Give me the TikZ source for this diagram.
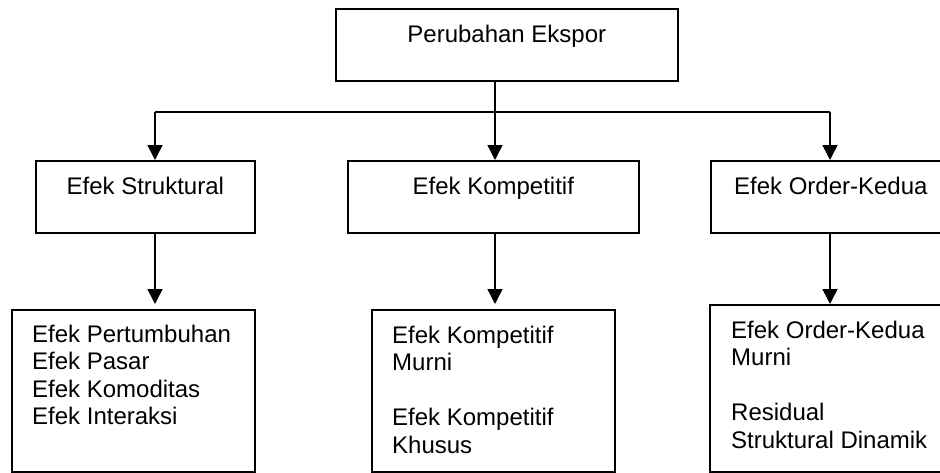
\documentclass[tikz,border=0pt]{standalone}
\usepackage{fontspec}
\setmainfont{Liberation Sans}
\usetikzlibrary{positioning,arrows.meta}

\begin{document}
\begin{tikzpicture}[
x = 1pt,
y = -1pt,
box/.style={
  draw,
  rectangle,
  line width=1.6pt,
  inner sep=0pt
  },
txt/.style={
  inner sep=0pt,
  font=\fontsize{24}{27.5}\selectfont
  },
conn/.style={
  line width=1.6pt
  },
>={Triangle[length=15pt,width=15pt]}
]

\useasboundingbox (0,0) rectangle (940,472);

% top box
\node[box, minimum width=342, minimum height=72, anchor=north west] (ekspor) at (335,8) {};
\node[txt, anchor=base] (eksporlbl) at ([yshift=-34pt]ekspor.north) {Perubahan Ekspor};

% second row
\node[box, minimum width=219, minimum height=72, anchor=north west] (struk) at (35,160) {};
\node[box, minimum width=291, minimum height=72, anchor=north west] (kompet) at (347,160) {};
\node[box, minimum width=240, minimum height=72, anchor=north west] (order) at (710,160) {};
\node[txt, anchor=base] (struklbl) at ([yshift=-34pt]struk.north) {Efek Struktural};
\node[txt, anchor=base] (kompetlbl) at ([yshift=-34pt]kompet.north) {Efek Kompetitif};
\node[txt, anchor=base] (orderlbl) at ([yshift=-34pt]order.north) {Efek Order-Kedua};

% third row
\node[box, minimum width=243, minimum height=162, anchor=north west] (pertumb) at (11,309) {};
\node[box, minimum width=243, minimum height=162, anchor=north west] (murni) at (371,309) {};
\node[box, minimum width=241, minimum height=167, anchor=north west] (ordmurni) at (709,304) {};
\node[txt, anchor=base west] (pertumblbl) at ([xshift=21pt,yshift=-33pt]pertumb.north west)
  {\begin{tabular}[t]{@{}l@{}}Efek Pertumbuhan\\Efek Pasar\\Efek Komoditas\\Efek Interaksi\end{tabular}};
\node[txt, anchor=base west] (murnilbl) at ([xshift=21pt,yshift=-34pt]murni.north west)
  {\begin{tabular}[t]{@{}l@{}}Efek Kompetitif\\Murni\\ \\Efek Kompetitif\\Khusus\end{tabular}};
\node[txt, anchor=base west] (ordmurnilbl) at ([xshift=22pt,yshift=-34pt]ordmurni.north west)
  {\begin{tabular}[t]{@{}l@{}}Efek Order-Kedua\\Murni\\ \\Residual\\Struktural Dinamik\end{tabular}};

% connectors
\coordinate (jleft) at (155,112);
\coordinate (jmid) at (495,112);
\coordinate (jright) at (830,112);

\draw[conn] (jleft) -- (jright);
\draw[conn] (ekspor.south -| jmid) -- (jmid);
\draw[conn][->] (jleft) -- (jleft |- struk.north);
\draw[conn][->] (jmid) -- (jmid |- kompet.north);
\draw[conn][->] (jright) -- (jright |- order.north);

\draw[conn][->, shorten >=5pt] (jleft |- struk.south) -- (jleft |- pertumb.north);
\draw[conn][->, shorten >=5pt] (jmid |- kompet.south) -- (jmid |- murni.north);
\draw[conn][->] (jright |- order.south) -- (jright |- ordmurni.north);

\end{tikzpicture}
\end{document}
